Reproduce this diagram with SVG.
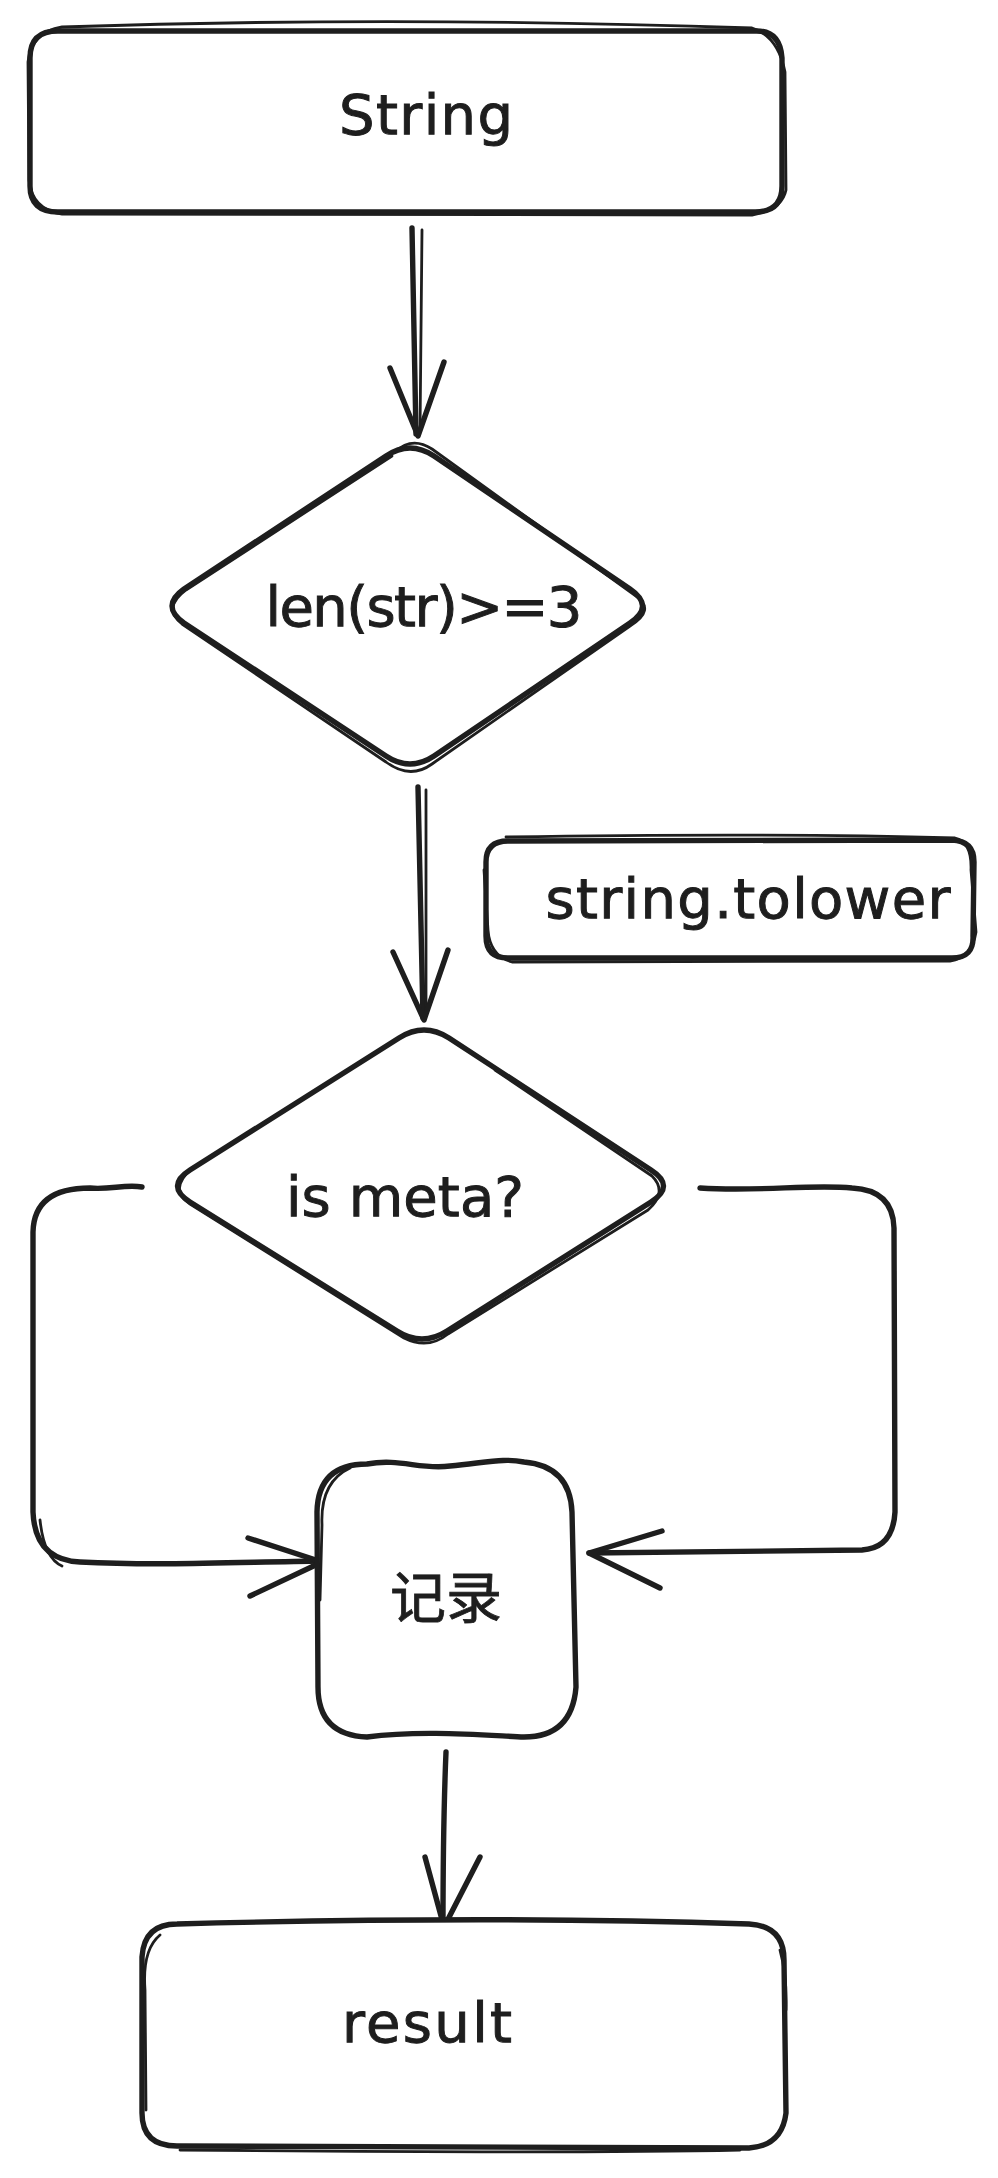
<svg xmlns="http://www.w3.org/2000/svg" width="998" height="2178" viewBox="0 0 998 2178">
<style>
.s{fill:none;stroke:#1e1e1e;stroke-width:5.4;stroke-linecap:round;stroke-linejoin:round}
.t{fill:none;stroke:#1e1e1e;stroke-width:2.8;stroke-linecap:round;stroke-linejoin:round}
.bg{fill:#ffffff;stroke:none}
.lbl{font-family:"DejaVu Sans","Noto Sans CJK SC",sans-serif;font-size:56px;fill:#1e1e1e;stroke:#1e1e1e;stroke-width:1;text-anchor:middle}
.cjk{font-family:"Noto Sans CJK SC","Noto Sans",sans-serif;font-size:56px;fill:#1e1e1e;stroke:#1e1e1e;stroke-width:0.8;text-anchor:middle}
</style>
<rect width="998" height="2178" fill="#ffffff"/>
<g id="connectors">
  <path class="s" d="M412 228 L416 434"/>
  <path class="t" d="M422 230 L420 432"/>
  <path class="s" d="M390 368 L418 436 L444 362"/>
  <path class="s" d="M418 787 L423 1018"/>
  <path class="t" d="M426 790 L426 1016"/>
  <path class="s" d="M393 952 L424 1020 L448 950"/>
  <path class="s" d="M142 1187 C125 1184 110 1190 90 1188 Q34 1188 33 1232 L33 1512 Q35 1560 80 1562 C160 1566 240 1562 322 1561"/>
  <path class="t" d="M40 1520 Q44 1558 62 1566"/>
  <path class="s" d="M248 1538 L322 1562 L250 1596"/>
  <path class="s" d="M700 1188 C760 1192 810 1184 852 1188 Q893 1190 894 1228 L895 1512 Q893 1548 862 1550 L589 1553"/>
  <path class="s" d="M662 1531 L589 1553 L660 1588"/>
  <path class="s" d="M446 1752 C444 1800 443 1860 443 1926"/>
  <path class="s" d="M425 1857 L444 1927 L480 1857"/>
</g>
<g id="node-string">
  <path class="bg" d="M58 30 L755 30 Q782 30 782 58 L782 186 Q782 212 755 212 L58 212 Q30 212 30 186 L30 58 Q30 30 58 30 Z"/>
  <path class="s" d="M58 31 L755 31 Q780 30 782 58 L782 186 Q782 212 755 212 L58 212 Q30 212 30 186 L30 58 Q30 31 58 31 Z"/>
  <path class="t" d="M62 27 C300 19 520 20 752 28 Q778 36 785 72 L786 190 Q782 210 752 215 L62 214 Q32 210 29 180 L28 62 Q31 32 62 27"/>
  <text class="lbl" x="426" y="134" textLength="174" lengthAdjust="spacing">String</text>
</g>
<g id="node-len">
  <path class="bg" d="M434 456 L630 589 Q655 606 630 623 L434 756 Q410 772 386 756 L184 623 Q160 606 184 589 L386 456 Q410 440 434 456 Z"/>
  <path class="s" d="M434 456 L630 589 Q655 606 630 623 L434 756 Q410 772 386 756 L184 623 Q160 606 184 589 L386 456 Q410 440 434 456 Z"/>
  <path class="t" d="M395 452 Q412 436 432 449 L636 596 Q656 610 630 626 L432 764 Q410 780 386 762 L182 624 Q162 608 186 590 L392 456"/>
  <text class="lbl" x="424" y="626" textLength="317" lengthAdjust="spacing">len(str)&gt;=3</text>
</g>
<g id="node-tolower">
  <path class="bg" d="M508 840 L952 840 Q974 840 974 862 L974 936 Q974 958 952 958 L508 958 Q486 958 486 936 L486 862 Q486 840 508 840 Z"/>
  <path class="s" d="M508 841 L952 840 Q974 841 974 862 L973 936 Q974 958 952 958 L508 958 Q486 958 486 936 L486 862 Q486 841 508 841 Z"/>
  <path class="t" d="M506 837 C700 834 850 835 955 838 Q972 842 971 870 L976 932 Q972 958 950 961 L512 962 Q490 956 488 930 L484 870"/>
  <text class="lbl" x="748" y="918" textLength="405" lengthAdjust="spacing">string.tolower</text>
</g>
<g id="node-meta">
  <path class="bg" d="M449 1038 L651 1170 Q676 1186 651 1202 L447 1331 Q422 1347 397 1331 L190 1202 Q165 1186 190 1170 L399 1038 Q424 1022 449 1038 Z"/>
  <path class="s" d="M449 1038 L651 1170 Q676 1186 651 1202 L447 1331 Q422 1347 397 1331 L190 1202 Q165 1186 190 1170 L399 1038 Q424 1022 449 1038 Z"/>
  <path class="t" d="M495 1070 L652 1176 Q668 1192 648 1210 L448 1334 Q428 1350 404 1338 L190 1204 Q168 1190 192 1168"/>
  <text class="lbl" x="405" y="1216" textLength="238" lengthAdjust="spacing">is meta?</text>
</g>
<g id="node-record">
  <path class="bg" d="M367 1462 L524 1462 Q574 1462 574 1512 L574 1687 Q574 1737 524 1737 L367 1737 Q317 1737 317 1687 L317 1512 Q317 1462 367 1462 Z"/>
  <path class="s" d="M367 1464 C400 1458 420 1470 450 1466 C490 1462 505 1458 524 1462 Q570 1466 572 1512 L576 1687 Q572 1737 524 1737 C480 1735 420 1730 367 1737 Q318 1735 318 1687 L317 1512 Q318 1464 367 1464 Z"/>
  <path class="t" d="M350 1468 Q320 1482 322 1525 L320 1600"/>
  <text class="cjk" x="446" y="1618">记录</text>
</g>
<g id="node-result">
  <path class="bg" d="M177 1922 L749 1922 Q784 1922 784 1957 L784 2113 Q784 2148 749 2148 L177 2148 Q142 2148 142 2113 L142 1957 Q142 1922 177 1922 Z"/>
  <path class="s" d="M177 1924 C400 1918 600 1919 749 1924 Q784 1926 784 1960 L786 2113 Q782 2146 749 2148 L177 2146 Q142 2146 142 2113 L142 1957 Q144 1924 177 1924 Z"/>
  <path class="t" d="M160 1935 Q142 1950 145 1990 L146 2110 M180 2150 C400 2152 600 2153 740 2150 M780 1950 Q787 1975 786 2010"/>
  <text class="lbl" x="427" y="2042" textLength="170" lengthAdjust="spacing">result</text>
</g>
</svg>
